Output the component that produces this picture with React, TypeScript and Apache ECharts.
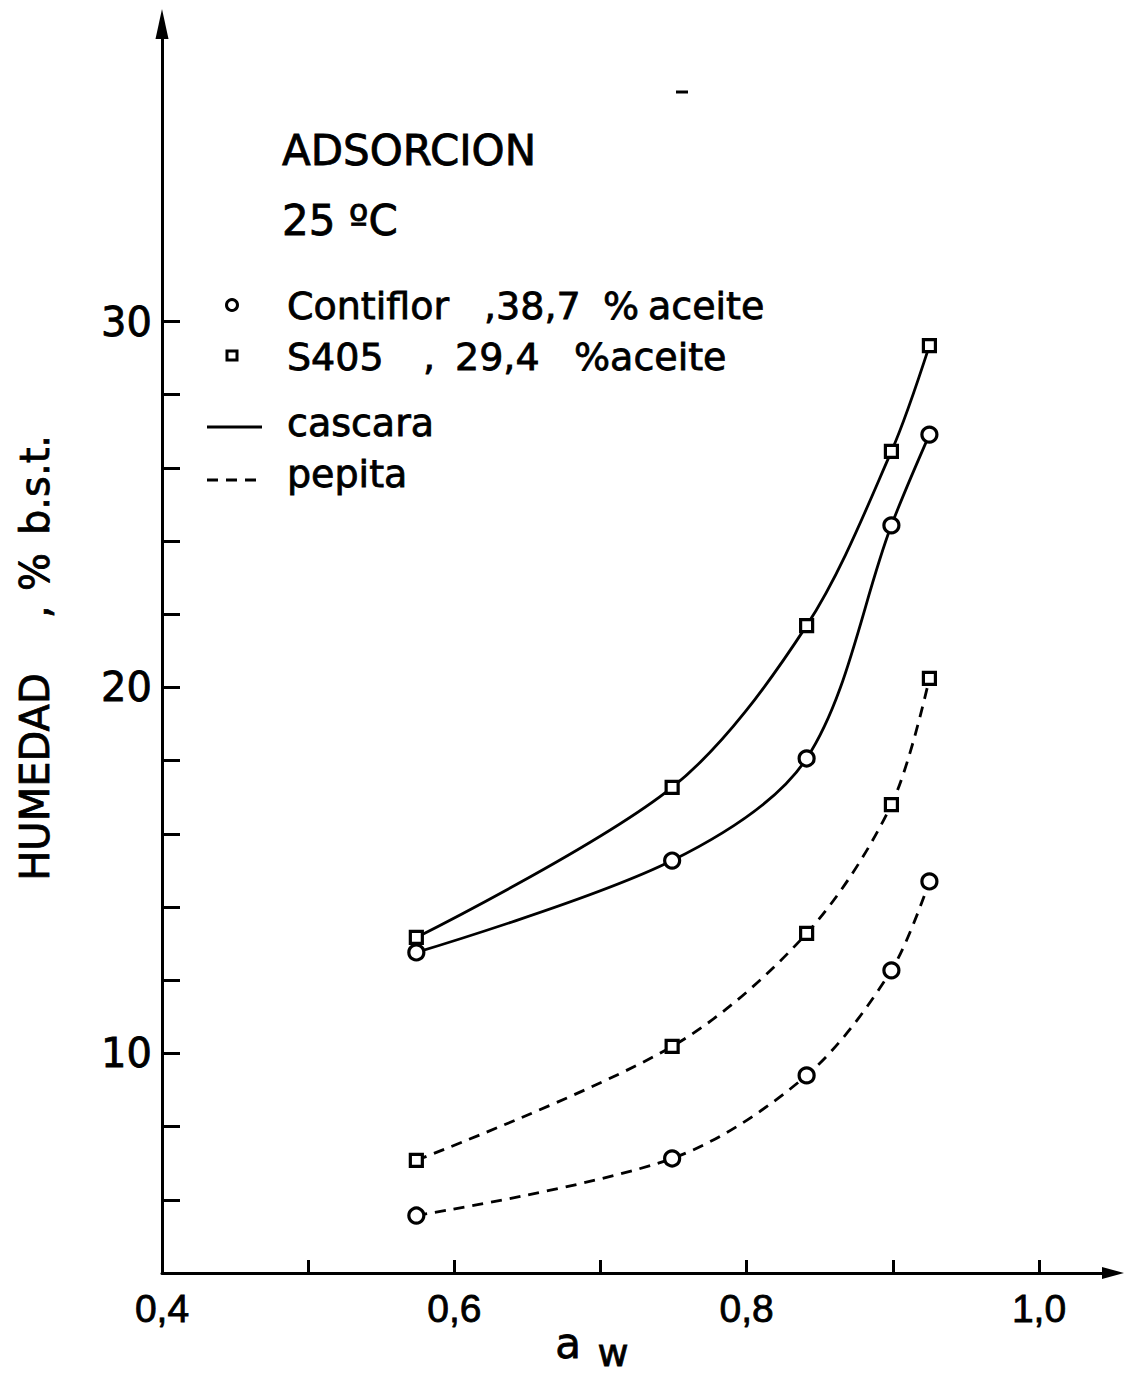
import React, { useEffect, useRef } from "react";
import * as echarts from "echarts";

// a_w values of the measured points
const awValues = [0.574, 0.749, 0.841, 0.899, 0.925];
// Humedad (% b.s.t.)
const contiflorCascara = [12.76, 15.27, 18.06, 24.43, 26.91];
const s405Cascara = [13.17, 17.27, 21.69, 26.45, 29.34];
const s405Pepita = [7.08, 10.19, 13.28, 16.8, 20.25];
const contiflorPepita = [5.57, 7.13, 9.4, 12.27, 14.7];

const xTickValues = [0.5, 0.6, 0.7, 0.8, 0.9, 1.0];
const xLabelValues = [0.4, 0.6, 0.8, 1.0];
const yTickValues = [6, 8, 10, 12, 14, 16, 18, 20, 22, 24, 26, 28, 30];
const yLabelValues = [10, 20, 30];

const FONT = '"Liberation Sans", Arial, sans-serif';
const FONT2 = '"DejaVu Sans", "Liberation Sans", sans-serif';

function pairs(ys: number[]) {
  return ys.map((y, i) => [awValues[i], y]);
}

function txt(text: string, x: number, y: number, size = 38, extra: any = {}) {
  return {
    type: "text",
    x,
    y,
    silent: true,
    ...extra,
    style: {
      text,
      fill: "#000",
      stroke: "#000",
      lineWidth: 0.8,
      fontFamily: FONT2,
      fontSize: size,
      verticalAlign: "middle",
      align: "left",
      ...(extra.style || {}),
    },
  };
}

function makeSeries(name: string, ys: number[], symbol: string, size: number, dashed: boolean) {
  return {
    name,
    type: "line",
    data: pairs(ys),
    smooth: 0.32,
    symbol,
    symbolSize: size,
    showSymbol: true,
    lineStyle: { color: "#000", width: 2.8, type: dashed ? [11, 8] : "solid" },
    itemStyle: { color: "#fff", borderColor: "#000", borderWidth: 3.2 },
    z: 3,
    silent: true,
  };
}

export default function App() {
  const ref = useRef<HTMLDivElement>(null);
  useEffect(() => {
    if (!ref.current) return;
    const chart = echarts.init(ref.current, null, { renderer: "svg" });
    const fmt = (v: number) => v.toFixed(1).replace(".", ",");
    const rot = { rotation: Math.PI / 2, style: { align: "center" } };
    chart.setOption({
      animation: false,
      backgroundColor: "#fff",
      textStyle: { fontFamily: FONT, color: "#000" },
      grid: { left: 162, right: 20, top: 24, bottom: 120, containLabel: false },
      xAxis: {
        type: "value",
        min: 0.4,
        max: 1.0506,
        splitLine: { show: false },
        axisLine: {
          onZero: false,
          lineStyle: { color: "#000", width: 3 },
          symbol: ["none", "triangle"],
          symbolSize: [12, 22],
        },
        axisTick: {
          show: true,
          inside: true,
          length: 13,
          lineStyle: { color: "#000", width: 3 },
          customValues: xTickValues,
        },
        axisLabel: {
          customValues: xLabelValues,
          formatter: fmt,
          fontSize: 39,
          fontFamily: FONT,
          color: "#000",
          textBorderColor: "#000",
          textBorderWidth: 0.8,
          margin: 35,
          verticalAlign: "middle",
        },
      },
      yAxis: {
        type: "value",
        min: 4,
        max: 38.13,
        splitLine: { show: false },
        axisLine: {
          onZero: false,
          lineStyle: { color: "#000", width: 3 },
          symbol: ["none", "triangle"],
          symbolSize: [13, 30],
        },
        axisTick: {
          show: true,
          inside: true,
          length: 18,
          lineStyle: { color: "#000", width: 3 },
          customValues: yTickValues,
        },
        axisLabel: {
          customValues: yLabelValues,
          formatter: (v: number) => String(v),
          fontSize: 40,
          fontFamily: FONT2,
          color: "#000",
          textBorderColor: "#000",
          textBorderWidth: 0.8,
          margin: 10,
        },
      },
      series: [
        makeSeries("S405 cascara", s405Cascara, "rect", 12, false),
        makeSeries("Contiflor cascara", contiflorCascara, "circle", 15, false),
        makeSeries("S405 pepita", s405Pepita, "rect", 12, true),
        makeSeries("Contiflor pepita", contiflorPepita, "circle", 15, true),
      ],
      graphic: [
        txt("ADSORCION", 282, 150, 42),
        txt("25 ºC", 282, 220, 42),
        // legend symbols
        {
          type: "circle",
          silent: true,
          shape: { cx: 232, cy: 305, r: 5.5 },
          style: { fill: "#fff", stroke: "#000", lineWidth: 3 },
        },
        {
          type: "rect",
          silent: true,
          shape: { x: 227, y: 351, width: 10, height: 9 },
          style: { fill: "#fff", stroke: "#000", lineWidth: 3 },
        },
        {
          type: "line",
          silent: true,
          shape: { x1: 207, y1: 427, x2: 262, y2: 427 },
          style: { stroke: "#000", lineWidth: 2.8 },
        },
        {
          type: "line",
          silent: true,
          shape: { x1: 207, y1: 480, x2: 264, y2: 480 },
          style: { stroke: "#000", lineWidth: 2.8, lineDash: [11, 8] },
        },
        // legend texts
        txt("Contiflor", 287, 306),
        txt(",38,7", 484, 306),
        txt("%", 603, 306),
        txt("aceite", 648, 306),
        txt("S405", 287, 357),
        txt(",", 423, 357),
        txt("29,4", 455, 357),
        txt("%aceite", 574, 357),
        txt("cascara", 287, 423),
        txt("pepita", 287, 474),
        // y axis title (rotated)
        txt("HUMEDAD", 35, 777, 40, rot),
        txt(",", 35, 612, 40, rot),
        txt("%", 35, 572, 40, rot),
        txt("b.s.t.", 35, 485, 40, rot),
        // x axis title
        txt("a", 568, 1343, 42, { style: { align: "center" } }),
        txt("w", 613, 1353, 38, { style: { align: "center" } }),
        // small scan mark
        {
          type: "line",
          silent: true,
          shape: { x1: 676, y1: 92, x2: 688, y2: 92 },
          style: { stroke: "#000", lineWidth: 3 },
        },
      ],
    });
    return () => chart.dispose();
  }, []);
  return (
    <div
      ref={ref}
      style={{ position: "fixed", left: 0, top: 0, width: 1133, height: 1393, background: "#fff" }}
    />
  );
}
